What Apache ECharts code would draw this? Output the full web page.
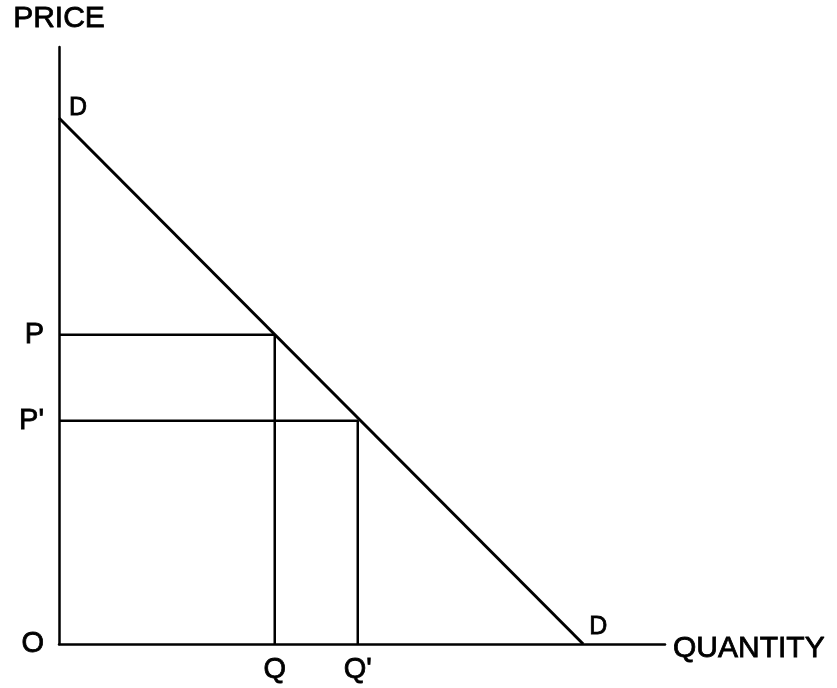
<!DOCTYPE html>
<html>
<head>
<meta charset="utf-8">
<script src="https://cdn.jsdelivr.net/npm/echarts@6/dist/echarts.min.js"></script>
<style>html,body{margin:0;padding:0;background:#fff}#c{width:837px;height:688px}</style>
</head>
<body>
<div id="c"></div>
<script>
// Data (abstract units: quantity 0-100, price 0-100)
const demandLine = [[0, 88.1], [86.5, 0]];
const priceTicks = [0, 37.4, 51.8];
const priceLabels = ['O', "P'", 'P'];
const qtyTicks = [35.6, 49.3];
const qtyLabels = ['Q', "Q'"];
const pointP = [35.6, 51.8];
const pointP2 = [49.3, 37.4];

const FONT = '"Liberation Sans", Arial, sans-serif';
const heavy = { textBorderColor: '#000', textBorderWidth: 0.8 };
const chart = echarts.init(document.getElementById('c'));

function lbl(ticks, labels) {
  return function (v) {
    for (let i = 0; i < ticks.length; i++) if (Math.abs(ticks[i] - v) < 1e-6) return labels[i];
    return '';
  };
}

chart.setOption({
  animation: false,
  backgroundColor: '#fff',
  grid: { left: 59, right: 172, top: 47, bottom: 44 },
  xAxis: {
    type: 'value', min: 0, max: 100,
    name: 'QUANTITY', nameLocation: 'end', nameGap: 8,
    nameTextStyle: Object.assign({ color: '#000', fontSize: 30, fontFamily: FONT, verticalAlign: 'top', padding: [-10, 0, 0, 0] }, heavy),
    axisLine: { onZero: false, lineStyle: { color: '#000', width: 2.5 } },
    axisTick: { show: false },
    splitLine: { show: false },
    axisLabel: Object.assign({ customValues: qtyTicks, formatter: lbl(qtyTicks, qtyLabels), color: '#000', fontSize: 29, fontFamily: FONT, margin: 11 }, heavy)
  },
  yAxis: {
    type: 'value', min: 0, max: 100,
    name: 'PRICE', nameLocation: 'end', nameGap: 13,
    nameTextStyle: Object.assign({ color: '#000', fontSize: 30, fontFamily: FONT, align: 'center' }, heavy),
    axisLine: { onZero: false, lineStyle: { color: '#000', width: 2.5 } },
    axisTick: { show: false },
    splitLine: { show: false },
    axisLabel: Object.assign({ customValues: priceTicks, formatter: lbl(priceTicks, priceLabels), color: '#000', fontSize: 29, fontFamily: FONT, margin: 15, padding: [6, 0, 0, 0] }, heavy)
  },
  series: [
    {
      type: 'line', data: demandLine, symbol: 'none',
      lineStyle: { color: '#000', width: 3 },
      silent: true,
      markPoint: {
        symbol: 'circle', symbolSize: 0,
        label: Object.assign({ show: true, color: '#000', fontSize: 25, fontFamily: FONT, formatter: 'D' }, heavy),
        data: [
          { coord: demandLine[0], label: { offset: [19, -10] } },
          { coord: demandLine[1], label: { offset: [15, -17] } }
        ]
      }
    },
    {
      type: 'line', symbol: 'none', silent: true,
      data: [[0, pointP[1]], pointP, [pointP[0], 0]],
      lineStyle: { color: '#000', width: 2.5 }
    },
    {
      type: 'line', symbol: 'none', silent: true,
      data: [[0, pointP2[1]], pointP2, [pointP2[0], 0]],
      lineStyle: { color: '#000', width: 2.5 }
    }
  ]
});
</script>
</body>
</html>
